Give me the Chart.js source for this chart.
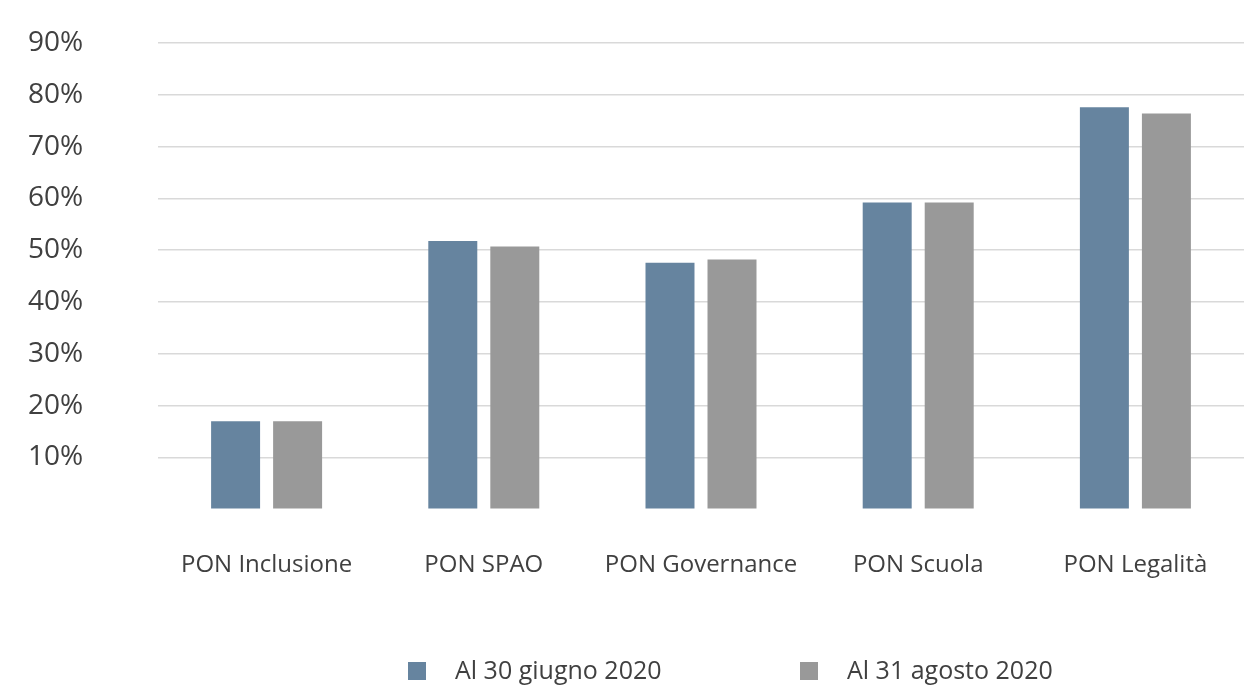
<!DOCTYPE html>
<html>
<head>
<meta charset="utf-8">
<script src="https://cdn.jsdelivr.net/npm/chart.js@4"></script>
<style>
  html, body { margin: 0; padding: 0; background: #fff; }
  #wrap { width: 1260px; height: 688px; }
</style>
</head>
<body>
<div id="wrap"><canvas id="myChart" width="1260" height="688"></canvas></div>
<script>
const categorie = ['PON Inclusione', 'PON SPAO', 'PON Governance', 'PON Scuola', 'PON Legalità'];
const giugno = [17.0, 51.8, 47.6, 59.2, 77.6];
const agosto = [17.0, 50.7, 48.2, 59.2, 76.4];
const etichette = ['Al 30 giugno 2020', 'Al 31 agosto 2020'];

const testo = '#404040';
const font = "'Open Sans', 'Noto Sans', sans-serif";

// legenda disegnata a mano: quella di Chart.js non permette la spaziatura dell'originale
const legendaManuale = {
  id: 'legendaManuale',
  afterDraw(chart, args, opts) {
    const c = chart.ctx;
    c.save();
    c.font = opts.size + 'px ' + font;
    c.textBaseline = 'middle';
    let x = opts.x;
    chart.data.datasets.forEach(ds => {
      c.fillStyle = ds.backgroundColor;
      c.fillRect(x, opts.y - opts.box / 2, opts.box, opts.box);
      c.fillStyle = testo;
      c.fillText(ds.label, x + opts.box + opts.gap, opts.y + 1);
      x += opts.step;
    });
    c.restore();
  }
};

const ctx = document.getElementById('myChart');
const myChart = new Chart(ctx, {
  type: 'bar',
  data: {
    labels: categorie,
    datasets: [
      { label: etichette[0], data: giugno, backgroundColor: '#66849f' },
      { label: etichette[1], data: agosto, backgroundColor: '#999999' }
    ]
  },
  plugins: [legendaManuale],
  options: {
    responsive: false,
    animation: false,
    categoryPercentage: 0.571,
    barPercentage: 0.79,
    layout: { padding: { left: 28, right: 16, top: 43, bottom: 74 } },
    plugins: {
      tooltip: { enabled: false },
      legend: { display: false },
      legendaManuale: { x: 408, y: 671, step: 392, box: 18, gap: 29, size: 25 }
    },
    scales: {
      x: {
        grid: { display: false },
        border: { display: false },
        ticks: { color: testo, padding: 34, font: { family: font, size: 24 } }
      },
      y: {
        min: 0, max: 90,
        border: { display: false },
        afterFit: s => { s.width = 130; },
        grid: {
          color: c => c.tick.value === 0 ? 'rgba(0,0,0,0)' : '#d9d9d9',
          lineWidth: 1.5,
          drawTicks: false
        },
        ticks: {
          stepSize: 10,
          padding: 0,
          crossAlign: 'far',
          color: testo,
          font: { family: font, size: 28 },
          callback: v => v === 0 ? '' : v + '%'
        }
      }
    }
  }
});
</script>
</body>
</html>
